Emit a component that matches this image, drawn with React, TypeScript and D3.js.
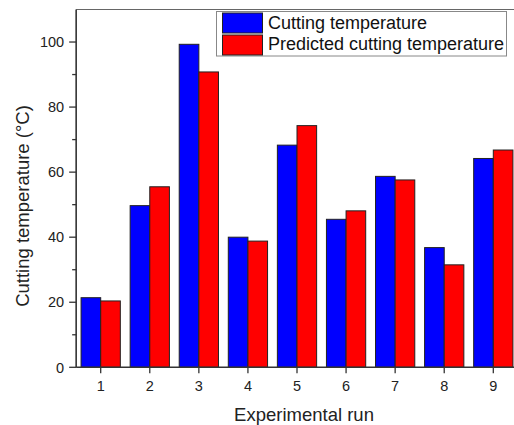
import React from "react";
import * as d3 from "d3";

const runs = [1, 2, 3, 4, 5, 6, 7, 8, 9];
const measured = [21.4, 49.7, 99.3, 40.0, 68.3, 45.5, 58.7, 36.8, 64.2];
const predicted = [20.4, 55.5, 90.8, 38.8, 74.3, 48.1, 57.6, 31.5, 66.8];
const yTicks = [0, 20, 40, 60, 80, 100];
const yMinor = [10, 30, 50, 70, 90];
const seriesNames = ["Cutting temperature", "Predicted cutting temperature"];

const W = 514;
const H = 425;
const font = "'Liberation Sans', Arial, sans-serif";
const axisColor = "#333";

export default function App() {
  const x = d3.scaleLinear().domain([1, 9]).range([100.7, 493.3]);
  const y = d3.scaleLinear().domain([0, 110]).range([367.3, 9.5]);
  const unit = x(2) - x(1);
  const bw = unit * 0.4;
  const left = x(0.5);
  const bottom = y(0);

  return (
    <div style={{ position: "absolute", left: 0, top: 0 }}>
      <svg width={W} height={H} style={{ background: "white", display: "block" }}>
        {/* frame top line */}
        <line x1={left} x2={W} y1={y(110)} y2={y(110)} stroke="#666" strokeWidth={1.2} />

        {/* bars */}
        {runs.map((r, i) => (
          <g key={r}>
            <rect
              x={x(r) - bw}
              y={y(measured[i])}
              width={bw}
              height={bottom - y(measured[i])}
              fill="#0000ff"
              stroke="#222"
              strokeWidth={1}
            />
            <rect
              x={x(r)}
              y={y(predicted[i])}
              width={bw}
              height={bottom - y(predicted[i])}
              fill="#ff0000"
              stroke="#222"
              strokeWidth={1}
            />
          </g>
        ))}

        {/* y axis */}
        <line x1={left} x2={left} y1={y(110)} y2={bottom} stroke={axisColor} strokeWidth={1.6} />
        {yTicks.map((t) => (
          <g key={t}>
            <line x1={left - 7} x2={left} y1={y(t)} y2={y(t)} stroke={axisColor} strokeWidth={1.3} />
            <text
              x={left - 12}
              y={y(t)}
              dy="0.36em"
              textAnchor="end"
              fontFamily={font}
              fontSize={14.5}
              fill="#222"
            >
              {t}
            </text>
          </g>
        ))}
        {yMinor.map((t) => (
          <line key={t} x1={left - 4} x2={left} y1={y(t)} y2={y(t)} stroke={axisColor} strokeWidth={1.3} />
        ))}

        {/* x axis */}
        <line x1={left} x2={W} y1={bottom} y2={bottom} stroke={axisColor} strokeWidth={1.6} />
        {runs.map((r) => (
          <g key={r}>
            <line x1={x(r)} x2={x(r)} y1={bottom} y2={bottom + 6} stroke={axisColor} strokeWidth={1.3} />
            <text x={x(r)} y={391} textAnchor="middle" fontFamily={font} fontSize={14.5} fill="#222">
              {r}
            </text>
          </g>
        ))}

        {/* axis titles */}
        <text x={304} y={421} textAnchor="middle" fontFamily={font} fontSize={18.5} fill="#222">
          Experimental run
        </text>
        <text
          transform={`translate(29, 206) rotate(-90)`}
          textAnchor="middle"
          fontFamily={font}
          fontSize={18.5}
          fill="#222"
        >
          Cutting temperature (°C)
        </text>

        {/* legend */}
        <rect x={216.5} y={11.5} width={290} height={44.5} fill="white" stroke="#888" strokeWidth={1} />
        {seriesNames.map((n, i) => (
          <g key={n}>
            <rect
              x={222.5}
              y={13 + i * 22}
              width={40}
              height={20}
              fill={i === 0 ? "#0000ff" : "#ff0000"}
              stroke="#222"
              strokeWidth={1}
            />
            <text x={268} y={28.5 + i * 21.5} fontFamily={font} fontSize={18} fill="#111">
              {n}
            </text>
          </g>
        ))}
      </svg>
    </div>
  );
}
